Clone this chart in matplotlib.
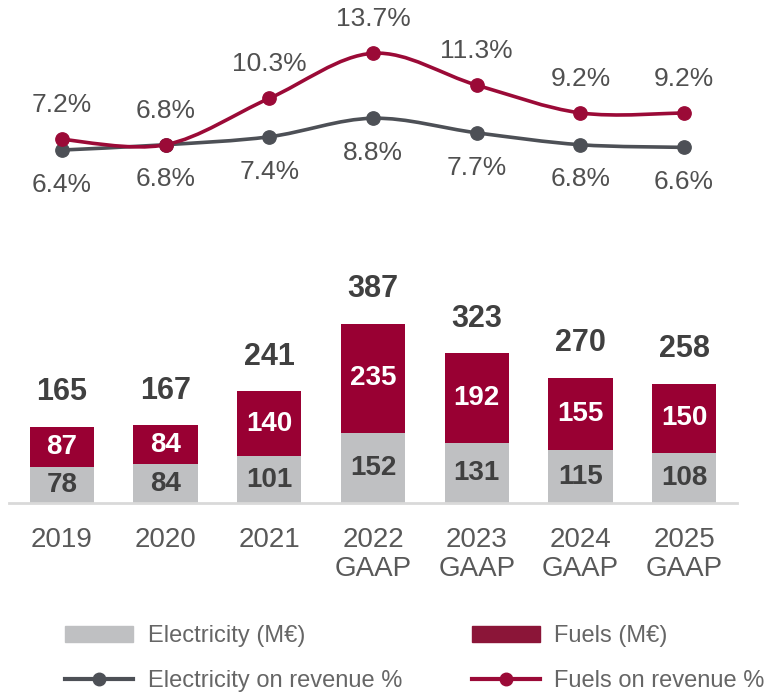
import numpy as np
import matplotlib
matplotlib.use('Agg')
from matplotlib import pyplot as plt
from matplotlib.path import Path
from matplotlib.patches import PathPatch, Patch
from matplotlib.lines import Line2D

plt.rcParams['font.family'] = ['Liberation Sans', 'DejaVu Sans']

years = ['2019', '2020', '2021', '2022\nGAAP', '2023\nGAAP', '2024\nGAAP', '2025\nGAAP']
electricity = [78, 84, 101, 152, 131, 115, 108]
fuels = [87, 84, 140, 235, 192, 155, 150]
totals = [165, 167, 241, 387, 323, 270, 258]
elec_pct = [6.4, 6.8, 7.4, 8.8, 7.7, 6.8, 6.6]
fuel_pct = [7.2, 6.8, 10.3, 13.7, 11.3, 9.2, 9.2]

GRAY = '#bfc0c2'
RED = '#990033'
RED_LEG = '#8b1538'
LINE_GRAY = '#4d5056'
LINE_RED = '#9b0a37'
TXT = '#404040'


def smooth_path(xs, ys):
    # Catmull-Rom spline turned into cubic bezier segments
    xs = np.asarray(xs, float)
    ys = np.asarray(ys, float)
    n = len(xs)
    verts = [(xs[0], ys[0])]
    codes = [Path.MOVETO]
    for i in range(n - 1):
        i0 = max(i - 1, 0)
        i3 = min(i + 2, n - 1)
        c1 = (xs[i] + (xs[i + 1] - xs[i0]) / 6, ys[i] + (ys[i + 1] - ys[i0]) / 6)
        c2 = (xs[i + 1] - (xs[i3] - xs[i]) / 6, ys[i + 1] - (ys[i3] - ys[i]) / 6)
        verts += [c1, c2, (xs[i + 1], ys[i + 1])]
        codes += [Path.CURVE4] * 3
    return Path(verts, codes)


fig = plt.figure(figsize=(7.7, 6.92), dpi=100)
W, H = 770, 692
x = np.arange(len(years))

# stacked bars
ax = fig.add_axes([9 / W, (H - 503.3) / H, 728 / W, 273.3 / H])
ax.bar(x, electricity, width=0.62, color=GRAY)
ax.bar(x, fuels, bottom=electricity, width=0.62, color=RED)
ax.set_xlim(-0.51, 6.51)
ax.set_ylim(0, 273.3 / 0.464)
for s in ['top', 'right', 'left']:
    ax.spines[s].set_visible(False)
ax.spines['bottom'].set_color('#d9d9d9')
ax.spines['bottom'].set_linewidth(2)
ax.set_yticks([])
ax.set_xticks(x)
ax.set_xticklabels(years, fontsize=20, color='#595959', linespacing=1.15)
ax.tick_params(axis='x', length=0, pad=17)

for i in range(len(x)):
    e, f = electricity[i], fuels[i]
    ax.text(x[i], e / 2, str(e), ha='center', va='center', fontsize=20,
            fontweight='bold', color=TXT)
    ax.text(x[i], e + f / 2, str(f), ha='center', va='center', fontsize=20,
            fontweight='bold', color='white')
    ax.annotate(str(totals[i]), (x[i], e + f), xytext=(0, 25),
                textcoords='offset points', ha='center', va='center',
                fontsize=22, fontweight='bold', color=TXT)

# percentage lines
ax2 = fig.add_axes([9 / W, 1 - 200 / H, 728 / W, 200 / H])
ax2.set_xlim(-0.51, 6.51)
ax2.set_ylim(2.63, 17.72)
ax2.axis('off')

for vals, col, off in [(elec_pct, LINE_GRAY, -25), (fuel_pct, LINE_RED, 24.5)]:
    ax2.add_patch(PathPatch(smooth_path(x, vals), fill=False, edgecolor=col,
                            lw=2.6, capstyle='round'))
    ax2.plot(x, vals, 'o', ms=9.6, color=col, zorder=3)
    for xi, v in zip(x, vals):
        ax2.annotate(f'{v:.1f}%', (xi, v), xytext=(0, off),
                     textcoords='offset points', ha='center', va='center',
                     fontsize=19, color='#505050')

handles = [
    Patch(color=GRAY),
    Line2D([], [], color=LINE_GRAY, lw=3, marker='o', ms=9),
    Patch(color=RED_LEG),
    Line2D([], [], color=LINE_RED, lw=3, marker='o', ms=9),
]
labels = ['Electricity (M€)', 'Electricity on revenue %',
          'Fuels (M€)', 'Fuels on revenue %']
leg = fig.legend(handles, labels, ncol=2, loc='upper left',
                 bbox_to_anchor=(65 / W, 1 - 625 / H), frameon=False,
                 fontsize=17, handlelength=2.9, handleheight=0.68,
                 handletextpad=0.6, columnspacing=2.95, labelspacing=0.98,
                 borderpad=0, borderaxespad=0)
for t in leg.get_texts():
    t.set_color('#666666')

fig.savefig('out.png', dpi=100)
